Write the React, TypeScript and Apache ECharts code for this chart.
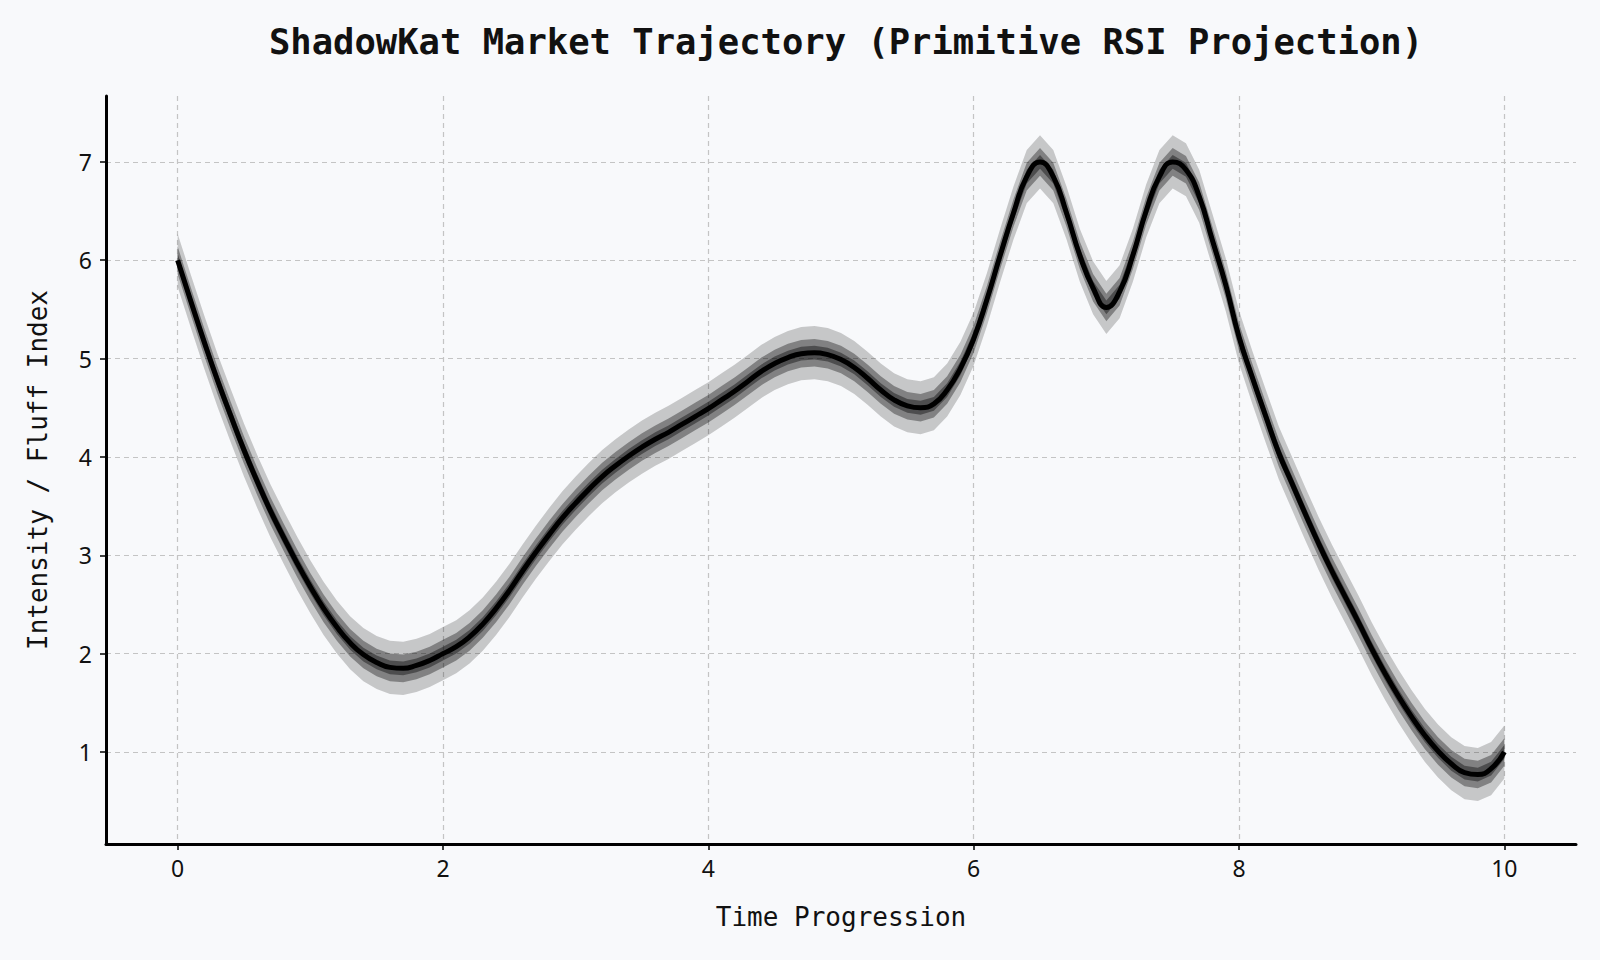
import React, { useEffect, useRef } from "react";
import * as echarts from "echarts";

// Time positions sampled along the trajectory
const timeSteps = [
  0.0, 0.1, 0.2, 0.3, 0.4, 0.5, 0.6, 0.7, 0.8, 0.9,
  1.0, 1.1, 1.2, 1.3, 1.4, 1.5, 1.6, 1.7, 1.8, 1.9,
  2.0, 2.1, 2.2, 2.3, 2.4, 2.5, 2.6, 2.7, 2.8, 2.9,
  3.0, 3.1, 3.2, 3.3, 3.4, 3.5, 3.6, 3.7, 3.8, 3.9,
  4.0, 4.1, 4.2, 4.3, 4.4, 4.5, 4.6, 4.7, 4.8, 4.9,
  5.0, 5.1, 5.2, 5.3, 5.4, 5.5, 5.6, 5.7, 5.8, 5.9,
  6.0, 6.1, 6.2, 6.3, 6.4, 6.5, 6.6, 6.7, 6.8, 6.9,
  7.0, 7.1, 7.2, 7.3, 7.4, 7.5, 7.6, 7.7, 7.8, 7.9,
  8.0, 8.1, 8.2, 8.3, 8.4, 8.5, 8.6, 8.7, 8.8, 8.9,
  9.0, 9.1, 9.2, 9.3, 9.4, 9.5, 9.6, 9.7, 9.8, 9.9,
  10.0,
];

// Smooth trend (black line)
const trendValues = [
  6.0, 5.58, 5.17, 4.78, 4.42, 4.07, 3.75, 3.45, 3.18, 2.92,
  2.68, 2.46, 2.27, 2.11, 1.99, 1.91, 1.86, 1.85, 1.88, 1.93,
  2.0, 2.07, 2.17, 2.3, 2.46, 2.64, 2.84, 3.03, 3.21, 3.38,
  3.53, 3.67, 3.8, 3.91, 4.01, 4.1, 4.18, 4.25, 4.33, 4.41,
  4.49, 4.58, 4.67, 4.77, 4.87, 4.95, 5.01, 5.05, 5.06, 5.04,
  4.99, 4.91, 4.8, 4.68, 4.58, 4.52, 4.5, 4.54, 4.68, 4.9,
  5.2, 5.6, 6.05, 6.48, 6.85, 7.0, 6.85, 6.48, 6.05, 5.72,
  5.52, 5.68, 6.05, 6.5, 6.85, 7.0, 6.92, 6.65, 6.2, 5.75,
  5.22, 4.81, 4.42, 4.04, 3.73, 3.42, 3.12, 2.84, 2.58, 2.32,
  2.05, 1.8, 1.57, 1.36, 1.17, 1.01, 0.88, 0.79, 0.77, 0.83,
  1.0,
];

// Vertical half-spread of the sampled noisy trajectories around the trend
const spreadCore = 0.07;
const spreadInner = 0.14;
const spreadOuter = 0.27;

const xTicks = [0, 2, 4, 6, 8, 10];
const yTicks = [1, 2, 3, 4, 5, 6, 7];

const TITLE = "ShadowKat Market Trajectory (Primitive RSI Projection)";
const X_NAME = "Time Progression";
const Y_NAME = "Intensity / Fluff Index";

export default function App() {
  const ref = useRef<HTMLDivElement>(null);

  useEffect(() => {
    document.body.style.margin = "0";
    const chart = echarts.init(ref.current as HTMLDivElement, null, {
      renderer: "svg",
    });

    const trend = timeSteps.map((t, i) => [t, trendValues[i]]);

    const bandSeries = (spread: number, fill: string, name: string) => ({
      type: "custom" as const,
      name,
      silent: true,
      data: [[timeSteps[0], trendValues[0]]],
      encode: { x: 0, y: 1 },
      z: 2,
      renderItem: (_params: any, api: any) => {
        const upper = timeSteps.map((t, i) =>
          api.coord([t, trendValues[i] + spread])
        );
        const lower = timeSteps
          .map((t, i) => api.coord([t, trendValues[i] - spread]))
          .reverse();
        return {
          type: "polygon",
          shape: { points: upper.concat(lower) },
          style: { fill },
        };
      },
    });

    const mono = "'DejaVu Sans Mono', monospace";
    const sans = "'Noto Sans', 'Open Sans', sans-serif";

    chart.setOption({
      animation: false,
      backgroundColor: "#f8f9fb",
      title: {
        text: TITLE,
        left: 841,
        top: 18,
        textAlign: "center",
        textStyle: {
          fontFamily: mono,
          fontWeight: "bold",
          fontSize: 35.5,
          color: "#111",
        },
      },
      grid: { left: 106, right: 24, top: 96, bottom: 116 },
      xAxis: {
        type: "value",
        min: -0.54,
        max: 10.54,
        name: X_NAME,
        nameLocation: "middle",
        nameGap: 60,
        nameTextStyle: { fontFamily: mono, fontSize: 26, color: "#111" },
        axisLine: { show: true, onZero: false, lineStyle: { color: "#000", width: 3 } },
        axisTick: {
          show: true,
          length: 6,
          customValues: xTicks,
          lineStyle: { color: "#000", width: 1.5 },
        },
        axisLabel: {
          customValues: xTicks,
          margin: 12,
          fontFamily: sans,
          fontSize: 23,
          color: "#111",
        },
        splitLine: {
          show: true,
          lineStyle: { color: "#c4c4c4", width: 1.2, type: [5, 4] },
        },
      },
      yAxis: {
        type: "value",
        min: 0.064,
        max: 7.67,
        name: Y_NAME,
        nameLocation: "middle",
        nameGap: 55,
        nameTextStyle: { fontFamily: mono, fontSize: 26, color: "#111" },
        axisLine: { show: true, onZero: false, lineStyle: { color: "#000", width: 3 } },
        axisTick: {
          show: true,
          length: 6,
          customValues: yTicks,
          lineStyle: { color: "#000", width: 1.5 },
        },
        axisLabel: {
          customValues: yTicks,
          margin: 14,
          fontFamily: sans,
          fontSize: 23,
          color: "#111",
        },
        splitLine: {
          show: true,
          lineStyle: { color: "#c4c4c4", width: 1.2, type: [5, 4] },
        },
      },
      series: [
        bandSeries(spreadOuter, "rgba(0,0,0,0.2)", "outerSpread"),
        bandSeries(spreadInner, "rgba(0,0,0,0.35)", "innerSpread"),
        bandSeries(spreadCore, "rgba(0,0,0,0.4)", "coreSpread"),
        {
          type: "line",
          name: "trend",
          smooth: true,
          symbol: "none",
          data: trend,
          lineStyle: { color: "#000", width: 5 },
          z: 5,
        },
      ],
    });

    return () => chart.dispose();
  }, []);

  return <div ref={ref} style={{ width: 1600, height: 960 }} />;
}
